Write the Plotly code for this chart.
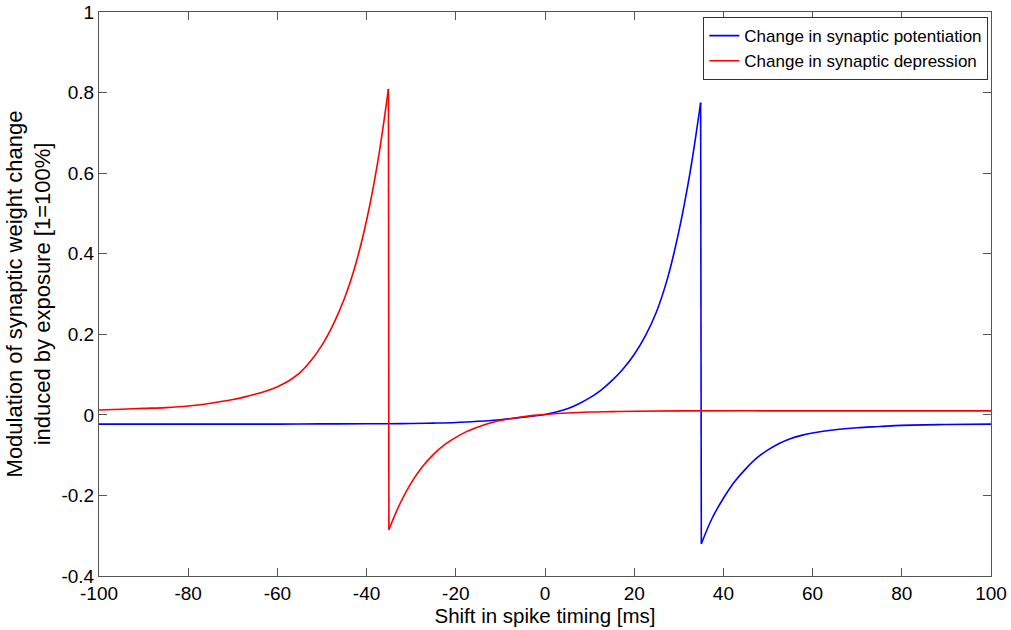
import plotly.graph_objects as go

# Values (estimated at regular steps along each curve)
pot_x = [-100, -90, -80, -70, -60, -50, -40, -35.1, -30, -25, -20, -15, -10, -7.5, -5,
         -2.5, 0, 2.5, 5, 7.5, 10, 12.5, 15, 17.5, 20, 22.5, 25, 27.5, 30, 32.5, 34.9,
         35.0, 35.05, 37.5, 40, 42.5, 45, 47.5, 50, 52.5, 55, 57.5, 60, 65, 70, 75, 80,
         90, 100]
pot_y = [-0.023, -0.023, -0.023, -0.023, -0.023, -0.0225, -0.022, -0.022, -0.0215,
         -0.0205, -0.019, -0.016, -0.012, -0.009, -0.006, -0.003, 0.001, 0.007, 0.015,
         0.027, 0.042, 0.061, 0.085, 0.114, 0.150, 0.196, 0.256, 0.340, 0.455, 0.600,
         0.775, 0.228, -0.320, -0.256, -0.207, -0.166, -0.134, -0.107, -0.087, -0.071,
         -0.059, -0.051, -0.045, -0.037, -0.032, -0.029, -0.026, -0.024, -0.023]

dep_x = [-100, -95, -90, -85, -80, -75, -70, -67.5, -65, -62.5, -60, -57.5, -55, -52.5,
         -50, -47.5, -45, -42.5, -40, -37.5, -35.1, -35.05, -35.0, -32.5, -30, -27.5,
         -25, -22.5, -20, -17.5, -15, -12.5, -10, -7.5, -5, -2.5, 0, 5, 10, 15, 20, 30,
         50, 75, 100]
dep_y = [0.012, 0.014, 0.016, 0.018, 0.022, 0.029, 0.038, 0.044, 0.051, 0.059, 0.070,
         0.084, 0.104, 0.134, 0.173, 0.224, 0.288, 0.372, 0.483, 0.628, 0.809, 0.261,
         -0.285, -0.220, -0.169, -0.129, -0.098, -0.074, -0.056, -0.041, -0.030,
         -0.021, -0.014, -0.009, -0.005, -0.0014, 0.001, 0.0047, 0.007, 0.008, 0.009,
         0.010, 0.010, 0.010, 0.010]

x_ticks = [-100, -80, -60, -40, -20, 0, 20, 40, 60, 80, 100]
y_ticks = [-0.4, -0.2, 0, 0.2, 0.4, 0.6, 0.8, 1]
y_tick_text = ["-0.4", "-0.2", "0", "0.2", "0.4", "0.6", "0.8", "1"]

font = "Liberation Sans, Arial, Helvetica, sans-serif"


def split_at_jump(xs, ys):
    """Split a series into pieces: smooth part, vertical jump, smooth part."""
    n = len(xs)
    jump_idx = [i for i in range(1, n) if xs[i] - xs[i - 1] < 0.2]
    if not jump_idx:
        return [("smooth", list(range(n)))]
    a = jump_idx[0] - 1
    b = jump_idx[-1]
    return [("smooth", list(range(0, a + 1))),
            ("jump", list(range(a, b + 1))),
            ("smooth", list(range(b, n)))]


fig = go.Figure()
for name, xs, ys, color in [("Change in synaptic potentiation", pot_x, pot_y, "#0000ff"),
                            ("Change in synaptic depression", dep_x, dep_y, "#ff0000")]:
    for k, (kind, idx) in enumerate(split_at_jump(xs, ys)):
        fig.add_trace(go.Scatter(
            x=[xs[i] for i in idx], y=[ys[i] for i in idx], mode="lines",
            name=name, legendgroup=name, showlegend=(k == 0),
            line=dict(color=color, width=1.6,
                      shape="spline" if kind == "smooth" else "linear",
                      smoothing=1.0)))

axis_common = dict(showgrid=False, zeroline=False, showline=True, linecolor="#555555",
                   linewidth=1, ticks="inside", ticklen=8, tickcolor="#555555",
                   mirror="ticks", automargin=False,
                   tickfont=dict(size=19, color="black", family=font))

fig.update_layout(
    width=1011, height=630,
    margin=dict(l=99, r=20, t=12, b=54),
    paper_bgcolor="white", plot_bgcolor="white",
    font=dict(family=font, color="black"),
    xaxis=dict(range=[-100, 100], tickvals=x_ticks, ticktext=[str(v) for v in x_ticks],
               title=dict(text="Shift in spike timing [ms]", font=dict(size=20.5), standoff=2),
               **axis_common),
    yaxis=dict(range=[-0.4, 1], tickvals=y_ticks, ticktext=y_tick_text,
               title=dict(text="Modulation of synaptic weight change<br>induced by exposure [1=100%]",
                          font=dict(size=22), standoff=4),
               **axis_common),
    legend=dict(x=0.997, y=0.991, xanchor="right", yanchor="top",
                bordercolor="#333333", borderwidth=1, bgcolor="white",
                font=dict(size=17, color="black", family=font),
                tracegroupgap=0, itemwidth=30),
    showlegend=True,
)

fig.write_html("out.html", config={"displayModeBar": False},
               post_script="document.body.style.margin='0';document.body.style.padding='0';")
